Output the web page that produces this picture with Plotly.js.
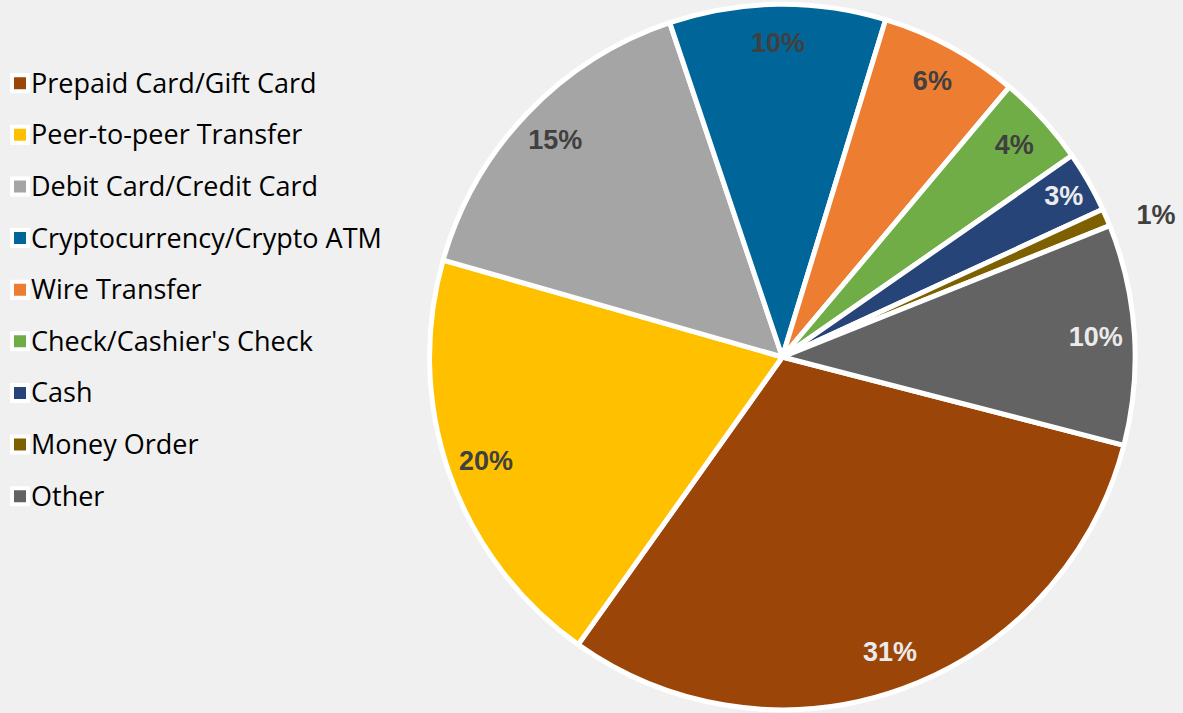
<!DOCTYPE html>
<html>
<head>
<meta charset="utf-8">
<script src="https://cdn.plot.ly/plotly-3.0.1.min.js"></script>
<style>html,body{margin:0;padding:0;background:#f0f0f0;}#chart{width:1183px;height:713px;}</style>
</head>
<body>
<div id="chart"></div>
<script>
const categories = ["Prepaid Card/Gift Card", "Peer-to-peer Transfer", "Debit Card/Credit Card", "Cryptocurrency/Crypto ATM", "Wire Transfer", "Check/Cashier's Check", "Cash", "Money Order", "Other"];
const shares = [30.8, 19.6, 15.4, 9.9, 6.4, 4.2, 2.8, 0.8, 10.1];
const sliceColors = ["#9C4509", "#FFC000", "#A5A5A5", "#00669A", "#ED7D31", "#70AD47", "#264478", "#7F6000", "#636363"];
const labelColors = ["#ebebeb", "#404040", "#404040", "#404040", "#404040", "#404040", "#ebebeb", "#404040", "#ebebeb"];
const insidePositions = ["inside", "inside", "inside", "inside", "inside", "inside", "inside", "none", "inside"];
const outsidePositions = ["none", "none", "none", "none", "none", "none", "none", "outside", "none"];

const W = 1183, H = 713;
const cx = 781, cy = 357, r = 354;
const dom = (rad) => ({x: [(cx - rad) / W, (cx + rad) / W], y: [(H - cy - rad) / H, (H - cy + rad) / H]});
const labelFont = {family: "Liberation Sans, Arial, sans-serif", size: 27, weight: "bold"};
const clear = sliceColors.map(() => "rgba(0,0,0,0)");

const slices = {
  type: "pie",
  labels: categories,
  values: shares,
  sort: false,
  direction: "clockwise",
  rotation: 104.5,
  marker: {colors: sliceColors, line: {color: "#ffffff", width: 5}},
  textinfo: "none",
  hovertemplate: "%{label}: %{percent}<extra></extra>",
  domain: dom(r),
  automargin: false
};

const labelsRing = {
  type: "pie",
  labels: categories,
  values: shares,
  sort: false,
  direction: "clockwise",
  rotation: 104.5,
  hole: 0.78,
  showlegend: false,
  marker: {colors: clear, line: {width: 0}},
  texttemplate: "%{percent:.0%}",
  textposition: insidePositions,
  insidetextorientation: "horizontal",
  insidetextfont: Object.assign({color: labelColors}, labelFont),
  hoverinfo: "skip",
  domain: dom(r),
  automargin: false
};

const labelsOutside = {
  type: "pie",
  labels: categories,
  values: shares,
  sort: false,
  direction: "clockwise",
  rotation: 104.5,
  hole: 0.99,
  showlegend: false,
  marker: {colors: clear, line: {width: 0}},
  texttemplate: "\u00a0\u00a0\u00a0%{percent:.0%}",
  textposition: outsidePositions,
  outsidetextfont: Object.assign({color: "#404040"}, labelFont),
  hoverinfo: "skip",
  domain: dom(r),
  automargin: false
};

const layout = {
  width: W, height: H,
  margin: {l: 0, r: 0, t: 0, b: 0},
  paper_bgcolor: "#f0f0f0",
  plot_bgcolor: "#f0f0f0",
  showlegend: true,
  uniformtext: {mode: "show", minsize: 27},
  legend: {
    x: -4 / W, xanchor: "left", y: 0.9265, yanchor: "top",
    font: {family: "Open Sans, sans-serif", size: 37.4, color: "#000000"},
    bgcolor: "rgba(0,0,0,0)",
    traceorder: "normal"
  }
};

Plotly.newPlot("chart", [slices, labelsRing, labelsOutside], layout, {displayModeBar: false, staticPlot: true}).then(() => {
  document.querySelectorAll(".legend .legendtext").forEach(el => {
    el.style.fontSize = "27px";
    el.setAttribute("x", "31");
    el.setAttribute("y", "9.5");
  });
  document.querySelectorAll(".legend .legendpoints path").forEach(el => {
    el.setAttribute("d", "M8,8H-8V-8H8Z");
    el.style.strokeWidth = "4px";
  });
});
</script>
</body>
</html>
